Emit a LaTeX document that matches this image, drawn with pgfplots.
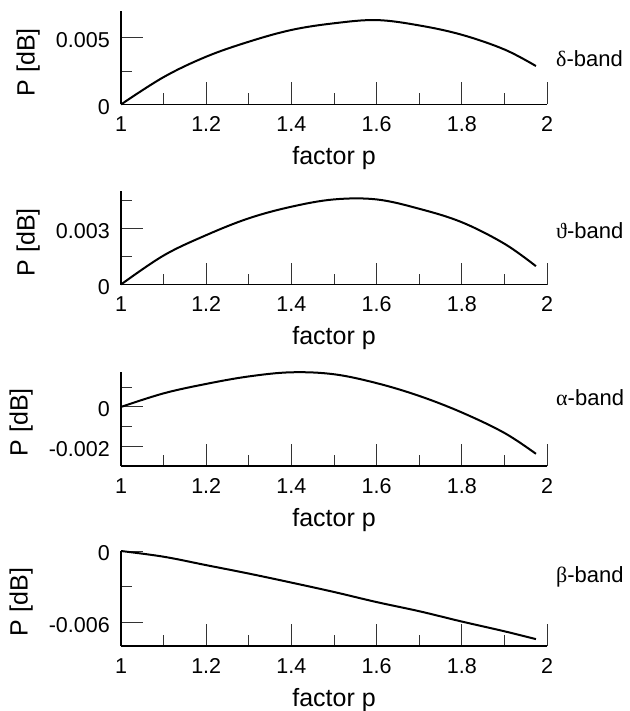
\documentclass[border=0pt]{standalone}
\usepackage{fontspec}
\setmainfont{Liberation Sans}
\newfontfamily\grk{Liberation Serif}
\usepackage{pgfplots}
\pgfplotsset{compat=1.18}
\pgfplotsset{panel/.style={
  scale only axis, width=426pt, height=93.5pt,
  xmin=1, xmax=2,
  axis x line*=bottom, axis y line*=left,
  xtick pos=bottom, ytick pos=left,
  tick align=inside,
  axis line style={line width=1.2pt},
  major tick style={line width=1pt, black!80},
  minor tick style={line width=1pt, black!80},
  major tick length=22pt, minor tick length=11pt,
  xtick={1,1.2,1.4,1.6,1.8,2},
  xticklabels={1,1.2,1.4,1.6,1.8,2},
  minor xtick={1.1,1.3,1.5,1.7,1.9},
  scaled y ticks=false,
  tick label style={font=\fontsize{21.5}{24}\selectfont},
  xticklabel style={inner sep=0pt, anchor=base, yshift=-27pt},
  yticklabel style={inner sep=0pt, anchor=east, xshift=-11pt, yshift=-2.5pt},
  label style={font=\fontsize{25}{30}\selectfont},
  xlabel={factor p},
  xlabel style={at={(axis description cs:0.5,0)}, anchor=base, inner sep=0pt, yshift=-60pt},
  ylabel={P [dB]},
  clip=false,
}}
\pgfplotsset{curve/.style={line width=2pt, black, no marks, smooth, tension=0.6}}
\newcommand{\bandlabel}[2]{\node[anchor=base west, inner sep=0pt, font=\fontsize{22}{24}\selectfont, xshift=9pt, yshift=#1] at (rel axis cs:1,0) {#2};}
\begin{document}
\begin{tikzpicture}
\useasboundingbox (0pt,0pt) rectangle (629pt,-711pt);
% delta
\begin{axis}[panel, at={(121pt,-104.5pt)}, anchor=south west,
  ymin=0, ymax=0.007, ytick={0,0.005}, yticklabels={0,0.005}, minor ytick={0.0025},
  ylabel style={at={(axis description cs:-0.190,0.452)}, anchor=south, inner sep=0pt}]
\addplot[curve] coordinates {(1.0,0) (1.1,0.00205) (1.2,0.00358) (1.3,0.0047) (1.4,0.00558) (1.5,0.00608) (1.6,0.00632) (1.7,0.00592) (1.8,0.00522) (1.9,0.00412) (1.974,0.00288)};
\bandlabel{37.5pt}{{\grk δ}-band}
\end{axis}
% theta
\begin{axis}[panel, at={(121pt,-284.5pt)}, anchor=south west,
  ymin=0, ymax=0.005, ytick={0,0.003}, yticklabels={0,0.003}, minor ytick={0.0015,0.0045},
  ylabel style={at={(axis description cs:-0.190,0.452)}, anchor=south, inner sep=0pt}]
\addplot[curve] coordinates {(1.0,0) (1.1,0.00155) (1.2,0.00264) (1.3,0.00354) (1.4,0.00416) (1.5,0.00455) (1.6,0.00455) (1.7,0.00405) (1.8,0.00333) (1.9,0.00218) (1.974,0.00098)};
\bandlabel{46.5pt}{{\grk ϑ}-band}
\end{axis}
% alpha
\begin{axis}[panel, at={(121pt,-466pt)}, anchor=south west, height=94.5pt,
  ymin=-0.003, ymax=0.0018, ytick={-0.002,0}, yticklabels={-0.002,0}, minor ytick={-0.001,0.001},
  ylabel style={at={(axis description cs:-0.2066,0.463)}, anchor=south, inner sep=0pt}]
\addplot[curve] coordinates {(1.0,0) (1.1,0.00069) (1.2,0.00117) (1.3,0.00155) (1.4,0.00176) (1.5,0.00166) (1.6,0.00121) (1.7,0.00056) (1.8,-0.00028) (1.9,-0.00132) (1.974,-0.00238)};
\bandlabel{61pt}{{\grk α}-band}
\end{axis}
% beta
\begin{axis}[panel, at={(121pt,-646pt)}, anchor=south west, height=95pt,
  ymin=-0.008, ymax=0, ytick={-0.006,0}, yticklabels={-0.006,0}, minor ytick={-0.003},
  ylabel style={at={(axis description cs:-0.2066,0.463)}, anchor=south, inner sep=0pt}]
\addplot[curve] coordinates {(1.0,0) (1.1,-0.00048) (1.2,-0.00119) (1.3,-0.0019) (1.4,-0.00266) (1.5,-0.00345) (1.6,-0.0043) (1.7,-0.00507) (1.8,-0.00594) (1.9,-0.00676) (1.974,-0.00742)};
\bandlabel{64pt}{{\grk β}-band}
\end{axis}
\end{tikzpicture}
\end{document}
